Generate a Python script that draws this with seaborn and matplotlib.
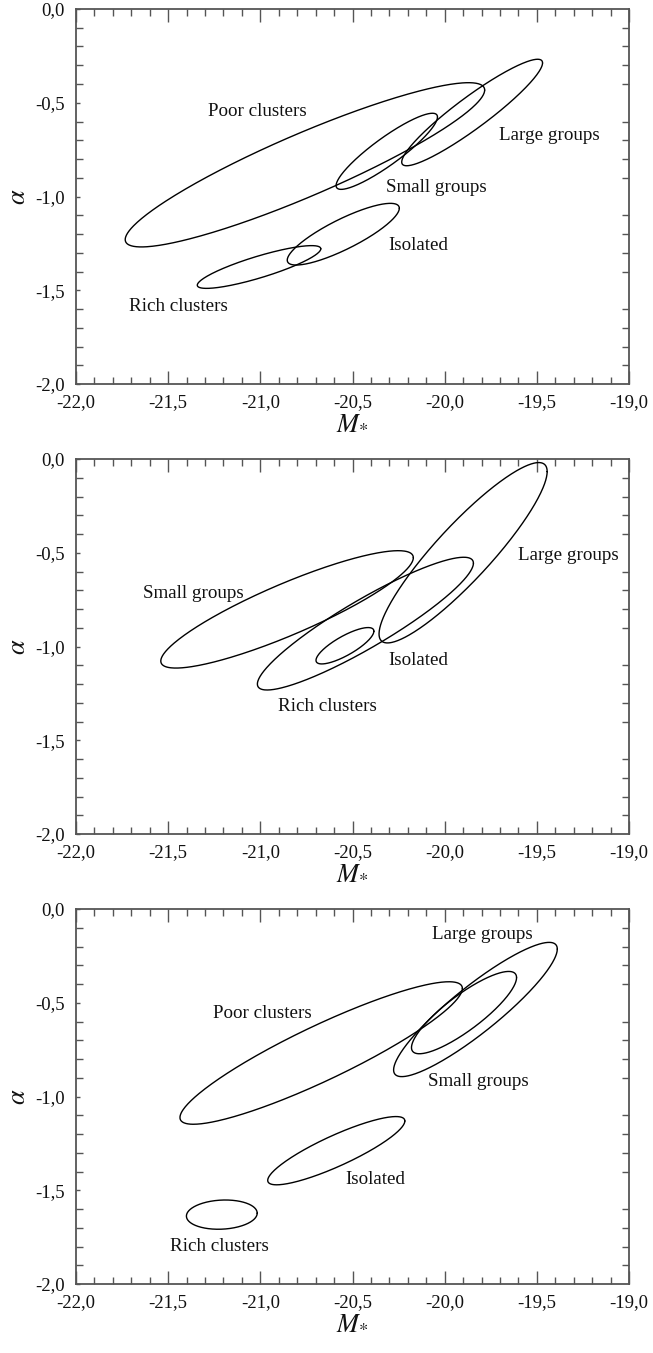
import numpy as np
import pandas as pd
import matplotlib
matplotlib.use("Agg")
import matplotlib.pyplot as plt
import seaborn as sns
from matplotlib.ticker import MultipleLocator, FixedLocator, FixedFormatter

# ---------------- data ----------------
# Each ellipse: centre (M*, alpha), half extent in M*, half extent in alpha, correlation
p1_names = ["Poor clusters", "Large groups", "Small groups", "Isolated", "Rich clusters"]
p1_cx = [-20.758, -19.851, -20.314, -20.550, -21.007]
p1_cy = [-0.831, -0.552, -0.759, -1.201, -1.376]
p1_sx = [0.975, 0.382, 0.275, 0.304, 0.335]
p1_sy = [0.438, 0.284, 0.203, 0.1645, 0.114]
p1_rho = [0.91, 0.93, 0.90, 0.84, 0.85]
p1_lab_x = [-21.018, -19.433, -20.043, -20.143, -21.442]
p1_lab_y = [-0.548, -0.672, -0.953, -1.262, -1.588]

p2_names = ["Small groups", "Large groups", "Isolated", "Rich clusters"]
p2_cx = [-20.855, -19.900, -20.430, -20.541]
p2_cy = [-0.802, -0.500, -0.878, -0.996]
p2_sx = [0.685, 0.456, 0.586, 0.157]
p2_sy = [0.313, 0.481, 0.354, 0.097]
p2_rho = [0.88, 0.90, 0.91, 0.80]
p2_lab_x = [-21.365, -19.329, -20.145, -20.634]
p2_lab_y = [-0.715, -0.517, -1.072, -1.321]

p3_names = ["Poor clusters", "Large groups", "Small groups", "Isolated", "Rich clusters"]
p3_cx = [-20.670, -19.833, -19.895, -20.588, -21.209]
p3_cy = [-0.768, -0.536, -0.5525, -1.289, -1.630]
p3_sx = [0.766, 0.444, 0.285, 0.372, 0.192]
p3_sy = [0.380, 0.358, 0.2195, 0.182, 0.078]
p3_rho = [0.905, 0.90, 0.85, 0.87, 0.10]
p3_lab_x = [-20.989, -19.796, -19.818, -20.375, -21.220]
p3_lab_y = [-0.555, -0.137, -0.920, -1.445, -1.801]

x_ticks = [-22.0, -21.5, -21.0, -20.5, -20.0, -19.5, -19.0]
x_ticklabels = ["-22,0", "-21,5", "-21,0", "-20,5", "-20,0", "-19,5", "-19,0"]
y_ticks = [0.0, -0.5, -1.0, -1.5, -2.0]
y_ticklabels = ["0,0", "-0,5", "-1,0", "-1,5", "-2,0"]

panels = [
    (p1_names, p1_cx, p1_cy, p1_sx, p1_sy, p1_rho, p1_lab_x, p1_lab_y),
    (p2_names, p2_cx, p2_cy, p2_sx, p2_sy, p2_rho, p2_lab_x, p2_lab_y),
    (p3_names, p3_cx, p3_cy, p3_sx, p3_sy, p3_rho, p3_lab_x, p3_lab_y),
]

# ---------------- style ----------------
sns.set_style("ticks")
plt.rcParams["font.family"] = ["Liberation Serif", "DejaVu Serif"]
plt.rcParams["mathtext.fontset"] = "stix"

W, H = 653, 1353
fig = plt.figure(figsize=(W / 100, H / 100), dpi=100)
fig.patch.set_facecolor("white")

left_px, right_px = 76, 629
tops_px = [9, 459, 909]
ax_h_px = 375

spine_col = "#555555"
t = np.linspace(0, 2 * np.pi, 400)

for (names, cx, cy, sx, sy, rho, lx, ly), top in zip(panels, tops_px):
    ax = fig.add_axes([left_px / W, 1 - (top + ax_h_px) / H,
                       (right_px - left_px) / W, ax_h_px / H])
    rows = []
    for n, a, b, c, d, r in zip(names, cx, cy, sx, sy, rho):
        xs = a + c * np.cos(t)
        ys = b + d * (r * np.cos(t) + np.sqrt(1 - r * r) * np.sin(t))
        rows.append(pd.DataFrame({"name": n, "M": xs, "alpha": ys, "order": np.arange(len(t))}))
    df = pd.concat(rows, ignore_index=True)
    sns.lineplot(data=df, x="M", y="alpha", units="name", estimator=None, sort=False,
                 color="black", linewidth=1.0, ax=ax, legend=False)
    for n, x, y in zip(names, lx, ly):
        ax.text(x, y, n, ha="center", va="center", fontsize=13.7, color="#111111")

    ax.set_xlim(-22, -19)
    ax.set_ylim(-2, 0)
    ax.xaxis.set_major_locator(FixedLocator(x_ticks))
    ax.xaxis.set_major_formatter(FixedFormatter(x_ticklabels))
    ax.yaxis.set_major_locator(FixedLocator(y_ticks))
    ax.yaxis.set_major_formatter(FixedFormatter(y_ticklabels))
    ax.xaxis.set_minor_locator(MultipleLocator(0.1))
    ax.yaxis.set_minor_locator(MultipleLocator(0.1))

    ax.tick_params(which="both", direction="in", top=True, right=True,
                   color=spine_col, width=1.0, labelsize=13.5, labelcolor="#111111")
    ax.tick_params(axis="x", which="major", length=9.4, pad=7)
    ax.tick_params(axis="x", which="minor", length=4.7)
    ax.tick_params(axis="y", which="major", length=3.0, right=False, pad=8)
    ax.tick_params(axis="y", which="minor", length=5.0)

    for s in ax.spines.values():
        s.set_color(spine_col)
        s.set_linewidth(1.3)

    ax.set_xlabel(r"$M_{*}$", fontsize=19, labelpad=1, color="#111111")
    ax.set_ylabel(r"$\alpha$", fontsize=19, labelpad=4, color="#111111")

fig.savefig("out.png", dpi=100, facecolor="white")
